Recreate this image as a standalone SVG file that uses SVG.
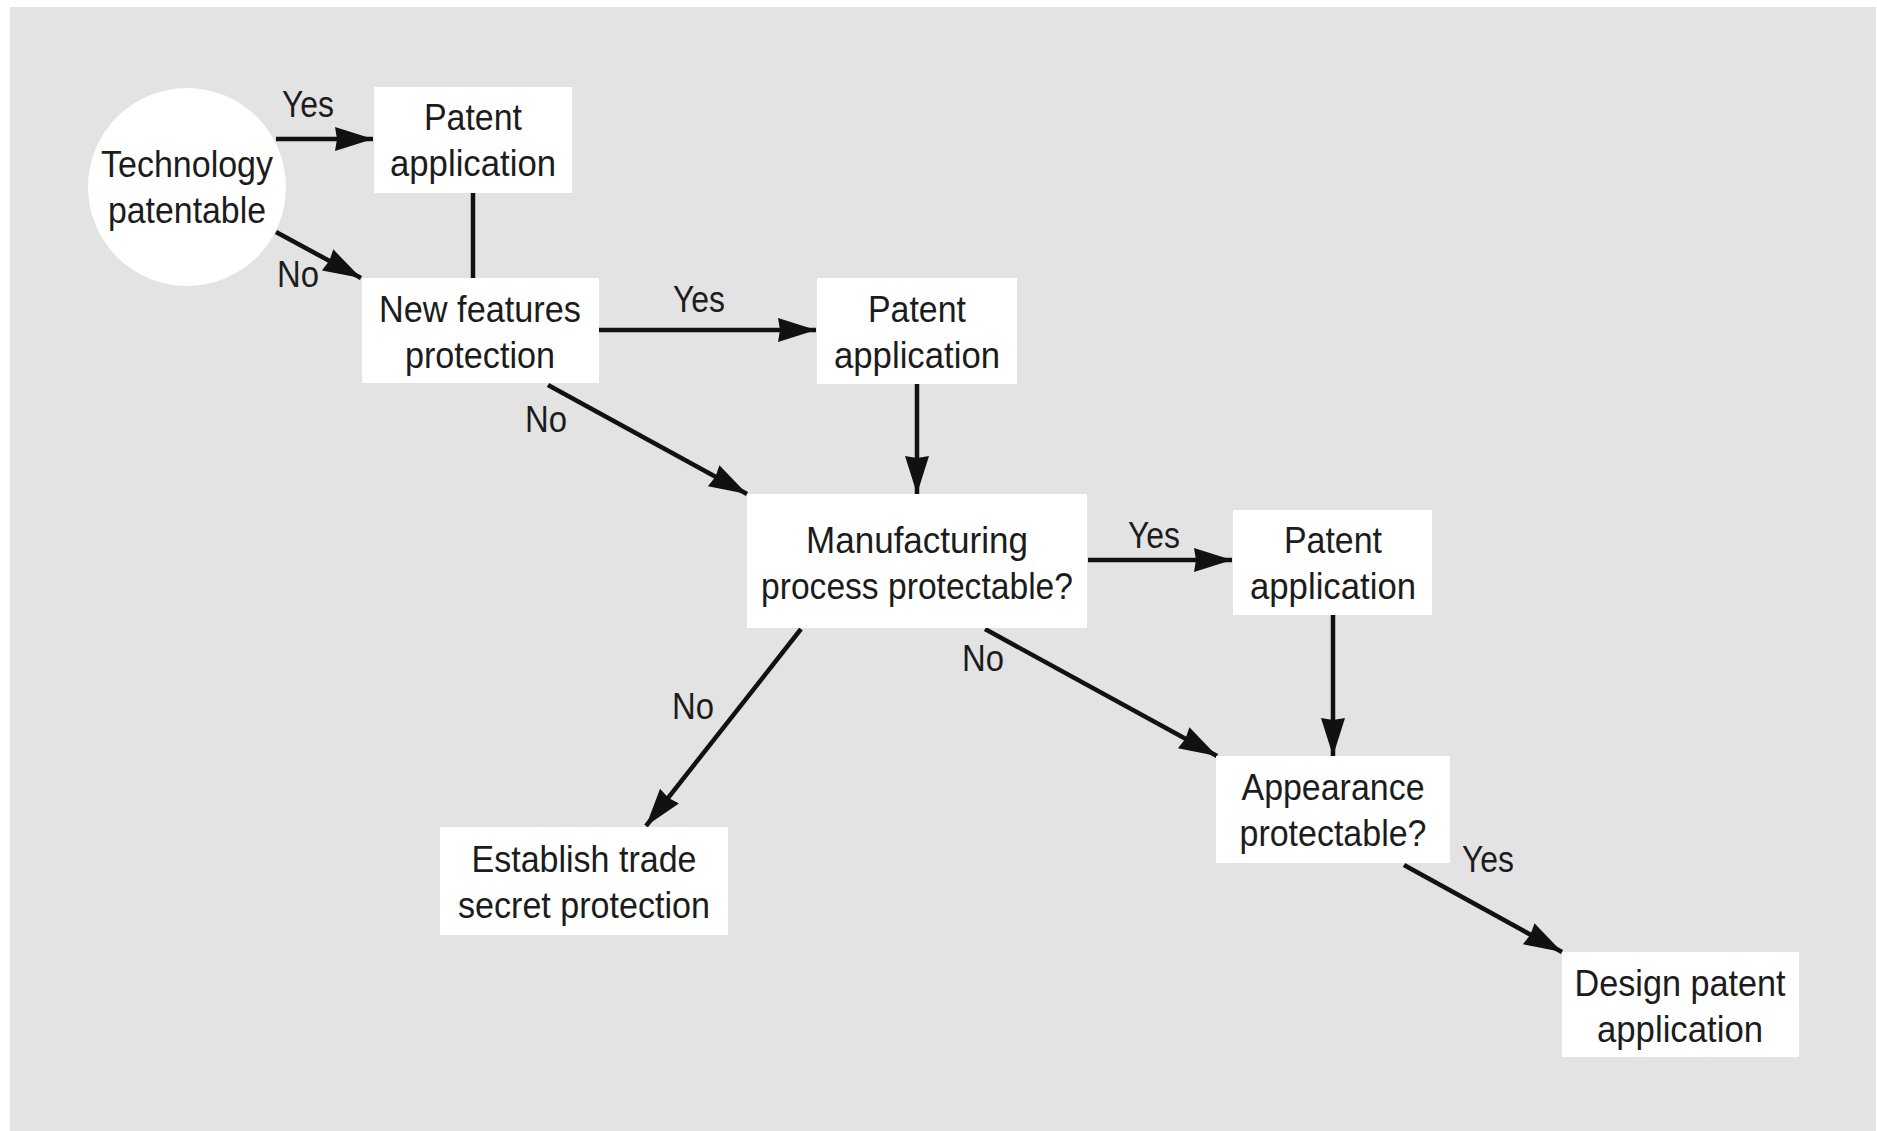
<svg xmlns="http://www.w3.org/2000/svg" width="1877" height="1131" viewBox="0 0 1877 1131">
<defs>
<style>
.bg{fill:#e3e3e3}
.box{fill:#ffffff}
.t{font-family:"Liberation Sans",Arial,sans-serif;font-size:37px;fill:#1c1c1c;text-anchor:middle}
.lbl{font-family:"Liberation Sans",Arial,sans-serif;font-size:36px;fill:#1c1c1c;text-anchor:middle}
.c{stroke:#111;stroke-width:4.5;fill:none}
</style>
<marker id="ah" markerUnits="userSpaceOnUse" markerWidth="40" markerHeight="26" refX="38" refY="12" orient="auto">
<path d="M0,0 L38,12 L0,24 L2,12 z" fill="#111"/>
</marker>
</defs>
<rect width="1877" height="1131" fill="#ffffff"/>
<rect class="bg" x="10" y="7" width="1866" height="1124"/>

<g id="connectors">
<line class="c" x1="276" y1="139" x2="373" y2="139" marker-end="url(#ah)"/>
<line class="c" x1="276" y1="232" x2="361" y2="278" marker-end="url(#ah)"/>
<line class="c" x1="473" y1="193" x2="473" y2="278"/>
<line class="c" x1="599" y1="330" x2="816" y2="330" marker-end="url(#ah)"/>
<line class="c" x1="548" y1="385" x2="747" y2="494" marker-end="url(#ah)"/>
<line class="c" x1="917" y1="384" x2="917" y2="494" marker-end="url(#ah)"/>
<line class="c" x1="1088" y1="560" x2="1232" y2="560" marker-end="url(#ah)"/>
<line class="c" x1="985" y1="629" x2="1217" y2="756" marker-end="url(#ah)"/>
<line class="c" x1="801" y1="629" x2="646" y2="826" marker-end="url(#ah)"/>
<line class="c" x1="1333" y1="615" x2="1333" y2="756" marker-end="url(#ah)"/>
<line class="c" x1="1404" y1="865" x2="1562" y2="952" marker-end="url(#ah)"/>
<text class="lbl" x="308" y="117" textLength="52" lengthAdjust="spacingAndGlyphs">Yes</text>
<text class="lbl" x="298" y="287" textLength="42" lengthAdjust="spacingAndGlyphs">No</text>
<text class="lbl" x="699" y="312" textLength="52" lengthAdjust="spacingAndGlyphs">Yes</text>
<text class="lbl" x="546" y="432" textLength="42" lengthAdjust="spacingAndGlyphs">No</text>
<text class="lbl" x="1154" y="548" textLength="52" lengthAdjust="spacingAndGlyphs">Yes</text>
<text class="lbl" x="983" y="671" textLength="42" lengthAdjust="spacingAndGlyphs">No</text>
<text class="lbl" x="693" y="719" textLength="42" lengthAdjust="spacingAndGlyphs">No</text>
<text class="lbl" x="1488" y="872" textLength="52" lengthAdjust="spacingAndGlyphs">Yes</text>
</g>

<g id="n-technology">
<circle class="box" cx="187" cy="187" r="99"/>
<text class="t" x="187" y="177" textLength="172" lengthAdjust="spacingAndGlyphs">Technology</text>
<text class="t" x="187" y="223" textLength="158" lengthAdjust="spacingAndGlyphs">patentable</text>
</g>

<g id="n-patent1">
<rect class="box" x="374" y="87" width="198" height="106"/>
<text class="t" x="473" y="130" textLength="98" lengthAdjust="spacingAndGlyphs">Patent</text>
<text class="t" x="473" y="176" textLength="166" lengthAdjust="spacingAndGlyphs">application</text>
</g>

<g id="n-newfeatures">
<rect class="box" x="362" y="278" width="237" height="105"/>
<text class="t" x="480" y="322" textLength="202" lengthAdjust="spacingAndGlyphs">New features</text>
<text class="t" x="480" y="368" textLength="150" lengthAdjust="spacingAndGlyphs">protection</text>
</g>

<g id="n-patent2">
<rect class="box" x="817" y="278" width="200" height="106"/>
<text class="t" x="917" y="322" textLength="98" lengthAdjust="spacingAndGlyphs">Patent</text>
<text class="t" x="917" y="368" textLength="166" lengthAdjust="spacingAndGlyphs">application</text>
</g>

<g id="n-manufacturing">
<rect class="box" x="747" y="494" width="340" height="134"/>
<text class="t" x="917" y="553" textLength="222" lengthAdjust="spacingAndGlyphs">Manufacturing</text>
<text class="t" x="917" y="599" textLength="312" lengthAdjust="spacingAndGlyphs">process protectable?</text>
</g>

<g id="n-patent3">
<rect class="box" x="1233" y="510" width="199" height="105"/>
<text class="t" x="1333" y="553" textLength="98" lengthAdjust="spacingAndGlyphs">Patent</text>
<text class="t" x="1333" y="599" textLength="166" lengthAdjust="spacingAndGlyphs">application</text>
</g>

<g id="n-appearance">
<rect class="box" x="1216" y="756" width="234" height="107"/>
<text class="t" x="1333" y="800" textLength="183" lengthAdjust="spacingAndGlyphs">Appearance</text>
<text class="t" x="1333" y="846" textLength="187" lengthAdjust="spacingAndGlyphs">protectable?</text>
</g>

<g id="n-tradesecret">
<rect class="box" x="440" y="827" width="288" height="108"/>
<text class="t" x="584" y="872" textLength="225" lengthAdjust="spacingAndGlyphs">Establish trade</text>
<text class="t" x="584" y="918" textLength="252" lengthAdjust="spacingAndGlyphs">secret protection</text>
</g>

<g id="n-design">
<rect class="box" x="1562" y="952" width="237" height="105"/>
<text class="t" x="1680" y="996" textLength="211" lengthAdjust="spacingAndGlyphs">Design patent</text>
<text class="t" x="1680" y="1042" textLength="166" lengthAdjust="spacingAndGlyphs">application</text>
</g>
</svg>
